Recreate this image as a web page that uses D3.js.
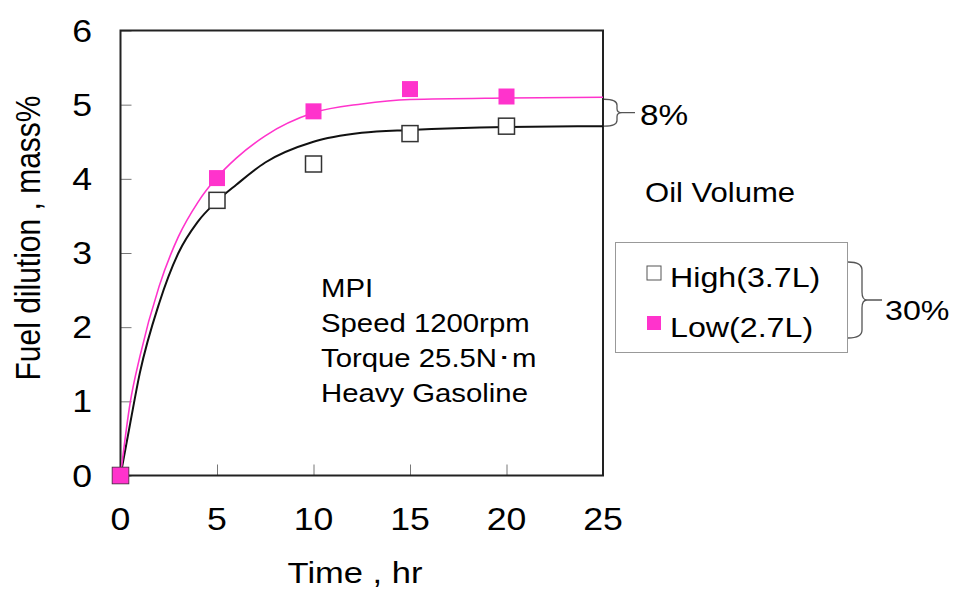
<!DOCTYPE html>
<html>
<head>
<meta charset="utf-8">
<script src="https://cdn.jsdelivr.net/npm/d3@7"></script>
<style>
  body { margin: 0; background: #fff; }
  svg { display: block; font-family: "Liberation Sans", Arial, sans-serif; }
</style>
</head>
<body>
<div id="chart"></div>
<script>

// measured points
var hours = [0, 5, 10, 15, 20]
var highVol = [0, 3.71, 4.20, 4.61, 4.71]
var lowVol = [0, 4.01, 4.91, 5.21, 5.11]

// fitted curves
var fitHours = [0, 0.5, 1, 2, 3, 4, 5, 6, 7.5, 10, 12.5, 15, 20, 25]
var highFit = [0, 0.70, 1.38, 2.32, 3.00, 3.42, 3.70, 3.92, 4.22, 4.50, 4.62, 4.66, 4.70, 4.71]
var lowFit = [0, 0.98, 1.60, 2.55, 3.22, 3.68, 4.02, 4.28, 4.58, 4.89, 5.01, 5.07, 5.09, 5.10]

var xTicks = [0, 5, 10, 15, 20, 25]
var yTicks = [0, 1, 2, 3, 4, 5, 6]

var legendLabels = ["High(3.7L)", "Low(2.7L)"]
var notes = ["MPI", "Speed 1200rpm", "Torque 25.5N\uFF65m", "Heavy Gasoline"]

var pink = "#ff33cc"
var stretch = 1.15

var width = 954, height = 592

var svg = d3.select("#chart").append("svg")
    .attr("width", width)
    .attr("height", height)

var x = d3.scaleLinear().domain([0, 25]).range([120.5, 603])
var y = d3.scaleLinear().domain([0, 6]).range([475.5, 30.5])

// text with the slight horizontal stretch of the original
function label(parent, tx, ty, txt, size, anchor) {
    return parent.append("text")
        .attr("transform", "translate(" + tx + "," + ty + ") scale(" + stretch + ",1)")
        .attr("text-anchor", anchor || "start")
        .attr("font-size", size)
        .attr("fill", "#000")
        .text(txt)
}

// axes, ticks pointing inward
svg.append("g")
    .attr("transform", "translate(0," + y(0) + ")")
    .call(d3.axisTop(x).tickValues(xTicks).tickSize(11).tickFormat(""))
    .call(g => g.select(".domain").remove())
    .call(g => g.selectAll("line").attr("stroke", "#777").attr("stroke-width", 1))

svg.append("g")
    .attr("transform", "translate(" + x(0) + ",0)")
    .call(d3.axisRight(y).tickValues(yTicks).tickSize(11).tickFormat(""))
    .call(g => g.select(".domain").remove())
    .call(g => g.selectAll("line").attr("stroke", "#777").attr("stroke-width", 1))

xTicks.forEach(function(t) {
    label(svg, x(t), 530, t, 31, "middle")
})

yTicks.forEach(function(t) {
    label(svg, 92, y(t) + 11, t, 31, "end")
})

// frame
svg.append("rect")
    .attr("x", x(0))
    .attr("y", y(6))
    .attr("width", x(25) - x(0))
    .attr("height", y(0) - y(6))
    .attr("fill", "none")
    .attr("stroke", "#222")
    .attr("stroke-width", 2)

// axis titles
label(svg, 355, 583, "Time , hr", 30, "middle")

svg.append("text")
    .attr("transform", "translate(40,238) scale(" + stretch + ",1) rotate(-90)")
    .attr("text-anchor", "middle")
    .attr("font-size", 30)
    .text("Fuel dilution , mass%")

// fitted lines
var line = d3.line()
    .x(d => x(d[0]))
    .y(d => y(d[1]))
    .curve(d3.curveMonotoneX)

svg.append("path")
    .datum(fitHours.map((t, i) => [t, highFit[i]]))
    .attr("d", line)
    .attr("fill", "none")
    .attr("stroke", "#111")
    .attr("stroke-width", 2)

svg.append("path")
    .datum(fitHours.map((t, i) => [t, lowFit[i]]))
    .attr("d", line)
    .attr("fill", "none")
    .attr("stroke", pink)
    .attr("stroke-width", 1.6)

// markers
var m = 16

svg.selectAll(".high")
    .data(hours.map((t, i) => [t, highVol[i]]))
    .enter().append("rect")
    .attr("class", "high")
    .attr("x", d => x(d[0]) - m / 2)
    .attr("y", d => y(d[1]) - m / 2)
    .attr("width", m)
    .attr("height", m)
    .attr("fill", "#fff")
    .attr("stroke", "#333")
    .attr("stroke-width", 1.5)

svg.selectAll(".low")
    .data(hours.map((t, i) => [t, lowVol[i]]))
    .enter().append("rect")
    .attr("class", "low")
    .attr("x", d => x(d[0]) - m / 2)
    .attr("y", d => y(d[1]) - m / 2)
    .attr("width", m)
    .attr("height", m)
    .attr("fill", pink)

// condition notes
notes.forEach(function(n, i) {
    label(svg, 321, 297 + i * 35, n, 25.5, "start")
})

// 8% brace between the two plateaus
var bx = x(25) + 1
var bTop = y(lowFit[lowFit.length - 1]) + 2
var bBot = y(highFit[highFit.length - 1])
var bMid = (bTop + bBot) / 2

svg.append("path")
    .attr("d", "M" + bx + "," + bTop +
        " Q" + (bx + 13) + "," + bTop + " " + (bx + 13) + "," + (bTop + 6) +
        " L" + (bx + 13) + "," + (bMid - 4) +
        " Q" + (bx + 13) + "," + bMid + " " + (bx + 18) + "," + bMid +
        " L" + (bx + 31) + "," + bMid +
        " M" + (bx + 18) + "," + bMid +
        " Q" + (bx + 13) + "," + bMid + " " + (bx + 13) + "," + (bMid + 4) +
        " L" + (bx + 13) + "," + (bBot - 6) +
        " Q" + (bx + 13) + "," + bBot + " " + bx + "," + bBot)
    .attr("fill", "none")
    .attr("stroke", "#555")
    .attr("stroke-width", 1.3)

label(svg, 640, 125, "8%", 29, "start")

// legend
label(svg, 645, 202, "Oil Volume", 27, "start")

svg.append("rect")
    .attr("x", 615.5)
    .attr("y", 242.5)
    .attr("width", 232)
    .attr("height", 110)
    .attr("fill", "#fff")
    .attr("stroke", "#999")
    .attr("stroke-width", 1)

var legend = svg.selectAll(".legend")
    .data(legendLabels)
    .enter().append("g")
    .attr("class", "legend")
    .attr("transform", (d, i) => "translate(647," + (266 + i * 50) + ")")

legend.append("rect")
    .attr("width", 14)
    .attr("height", 14)
    .attr("fill", (d, i) => i === 0 ? "#fff" : pink)
    .attr("stroke", (d, i) => i === 0 ? "#555" : "none")
    .attr("stroke-width", 1)

legend.each(function(d) {
    label(d3.select(this), 23, 21, d, 28, "start")
})

// 30% brace next to the legend
var lx = 848, lTop = 262, lBot = 338, lMid = 300

svg.append("path")
    .attr("d", "M" + lx + "," + lTop +
        " Q" + (lx + 14) + "," + lTop + " " + (lx + 14) + "," + (lTop + 8) +
        " L" + (lx + 14) + "," + (lMid - 8) +
        " Q" + (lx + 14) + "," + lMid + " " + (lx + 19) + "," + lMid +
        " L" + (lx + 34) + "," + lMid +
        " M" + (lx + 19) + "," + lMid +
        " Q" + (lx + 14) + "," + lMid + " " + (lx + 14) + "," + (lMid + 8) +
        " L" + (lx + 14) + "," + (lBot - 8) +
        " Q" + (lx + 14) + "," + lBot + " " + lx + "," + lBot)
    .attr("fill", "none")
    .attr("stroke", "#555")
    .attr("stroke-width", 1.3)

label(svg, 885, 320, "30%", 28, "start")

</script>
</body>
</html>
